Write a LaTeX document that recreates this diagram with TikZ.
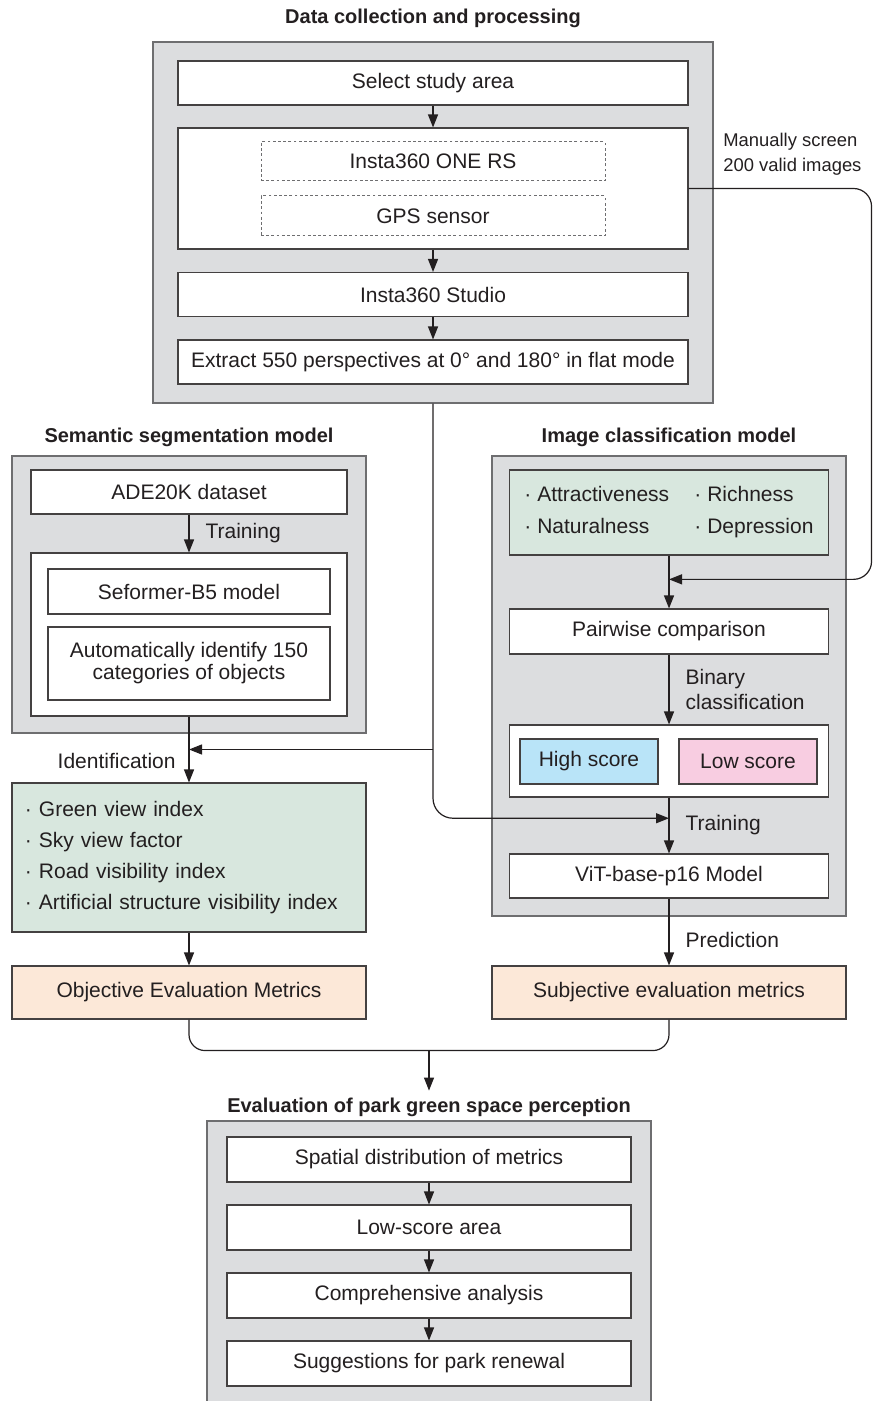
\documentclass[tikz,border=0pt]{standalone}
\usepackage{fontspec}
\setmainfont{Liberation Sans}
\usetikzlibrary{positioning,arrows.meta,calc}

\definecolor{texto}{HTML}{231F20}
\definecolor{grisfondo}{HTML}{DCDDDF}
\definecolor{bordegris}{HTML}{6E6E70}
\definecolor{verdeclaro}{HTML}{D8E7DE}
\definecolor{naranjaclaro}{HTML}{FCE8D8}
\definecolor{azulclaro}{HTML}{B9E4F8}
\definecolor{rosaclaro}{HTML}{F8CDE1}

\begin{document}
\begin{tikzpicture}[
    x=0.5pt, y=-0.5pt,
    font=\fontsize{10.5}{12.5}\selectfont,
    text=texto,
    grupo/.style={draw=bordegris, line width=0.7pt, fill=grisfondo, inner sep=0pt},
    caja/.style={draw=texto!85, line width=0.55pt, fill=white, align=center, inner sep=2pt},
    punteada/.style={draw=bordegris, line width=0.5pt, dash pattern=on 1.4pt off 1.2pt,
                     fill=white, align=center},
    verde/.style={caja, fill=verdeclaro},
    naranja/.style={caja, fill=naranjaclaro},
    titulo/.style={font=\fontsize{10}{12}\selectfont\bfseries},
    etiqueta/.style={inner sep=0pt, anchor=west, align=left, xshift=8pt},
    flecha/.style={-{Triangle[length=6.5pt, width=5pt]}, line width=0.6pt, draw=texto},
    linea/.style={line width=0.6pt, draw=texto}
]
\useasboundingbox (0,0) rectangle (873,1401);

% recogida y procesamiento de datos
\node[titulo] (tit1) at (433,18) {Data collection and processing};
\node[grupo, minimum width=280pt, minimum height=180.5pt] (datos) at (433,222.5) {};
\node[caja, minimum width=255pt, minimum height=22pt]   (area)    at (433,83)    {Select study area};
\node[caja, minimum width=255pt, minimum height=60.5pt] (equipo)  at (433,188.5) {};
\node[punteada, minimum width=172pt, minimum height=19.5pt] (camara) at (433,161.5) {Insta360 ONE RS};
\node[punteada, minimum width=172pt, minimum height=20pt]   (gps)    at (433,216)   {GPS sensor};
\node[caja, minimum width=255pt, minimum height=22pt]   (estudio) at (433,294.5) {Insta360 Studio};
\node[caja, minimum width=255pt, minimum height=22pt]   (extraer) at (433,362)
    {Extract 550 perspectives at 0° and 180° in flat mode};
\node[anchor=west, align=left, inner sep=0pt, font=\fontsize{9.2}{12.5}\selectfont]
    (manual) at (723,154) {Manually screen\\200 valid images};

% segmentacion semantica
\node[titulo] (tit2) at (189,437) {Semantic segmentation model};
\node[grupo, minimum width=177pt, minimum height=138.5pt] (segm) at (189,594.5) {};
\node[caja, minimum width=158pt, minimum height=22pt]   (ade)      at (189,492)   {ADE20K dataset};
\node[caja, minimum width=158pt, minimum height=81.5pt] (modelo)   at (189,634.5) {};
\node[caja, minimum width=141pt, minimum height=22.5pt] (seformer) at (189,591.5) {Seformer-B5 model};
\node[caja, minimum width=141pt, minimum height=36.5pt, font=\fontsize{10.5}{11}\selectfont]
    (objetos) at (189,663.5) {Automatically identify 150\\categories of objects};
\node[verde, minimum width=177pt, minimum height=74.5pt, text width=164pt, align=left]
    (indices) at (189,857.5)
    {· Green view index\\[3pt] · Sky view factor\\[3pt] · Road visibility index\\[3pt]
     · Artificial structure visibility index};
\node[naranja, minimum width=177pt, minimum height=26.5pt] (objetivas) at (189,992.5)
    {Objective Evaluation Metrics};

% clasificacion de imagenes
\node[titulo] (tit3) at (669,437) {Image classification model};
\node[grupo, minimum width=177pt, minimum height=230pt] (clasif) at (669,686) {};
\node[verde, minimum width=159.5pt, minimum height=42.5pt, align=left] (percep) at (669,512.5)
    {\makebox[85pt][l]{· Attractiveness}· Richness\\[3.5pt]
     \makebox[85pt][l]{· Naturalness}· Depression};
\node[caja, minimum width=159.5pt, minimum height=22.5pt] (pares)    at (669,631.5) {Pairwise comparison};
\node[caja, minimum width=159.5pt, minimum height=36pt]   (puntajes) at (669,761)   {};
\node[caja, fill=azulclaro, minimum width=69pt, minimum height=22.5pt] (alta) at (589,761.5) {High score};
\node[caja, fill=rosaclaro, minimum width=69pt, minimum height=22.5pt] (baja) at (748,761.5) {Low score};
\node[caja, minimum width=159.5pt, minimum height=22pt]   (vit)      at (669,876)   {ViT-base-p16 Model};
\node[naranja, minimum width=177pt, minimum height=26.5pt] (subjetivas) at (669,992.5)
    {Subjective evaluation metrics};

% evaluacion final
\node[titulo] (tit4) at (429,1107) {Evaluation of park green space perception};
\node[grupo, minimum width=222pt, minimum height=141pt] (evaluacion) at (429,1262) {};
\node[caja, minimum width=202pt, minimum height=22.5pt] (distrib)     at (429,1159.5) {Spatial distribution of metrics};
\node[caja, minimum width=202pt, minimum height=22.5pt] (bajopuntaje) at (429,1227.5) {Low-score area};
\node[caja, minimum width=202pt, minimum height=22.5pt] (analisis)    at (429,1295.5) {Comprehensive analysis};
\node[caja, minimum width=202pt, minimum height=22.5pt] (sugerencias) at (429,1363.5) {Suggestions for park renewal};

\coordinate (retorno) at ($(percep.south)!0.45!(pares.north)$);
\coordinate (identif) at ($(modelo.south)!0.5!(indices.north)$);
\coordinate (entreno) at ($(puntajes.south)!0.37!(vit.north)$);
\coordinate (union)   at ($(objetivas.south)!0.5!(subjetivas.south) + (0,31)$);

\draw[flecha] (area) -- (equipo);
\draw[flecha] (equipo) -- (estudio);
\draw[flecha] (estudio) -- (extraer);
\draw[flecha, rounded corners=9pt] (equipo.east) -- ++(183,0) |- (retorno);

\draw[flecha] (ade) -- (modelo) node[etiqueta, midway] {Training};
\draw[flecha] (modelo) -- (indices);
\draw[flecha] (datos.south |- identif) -- (identif);
\node[anchor=east, inner sep=0pt] (identlab) at ($(identif)+(-13,11)$) {Identification};
\draw[flecha, rounded corners=10pt] (datos.south) |- (entreno);
\draw[flecha] (indices) -- (objetivas);

\draw[flecha] (percep) -- (pares);
\draw[flecha] (pares) -- (puntajes) node[etiqueta, midway] {Binary\\classification};
\draw[flecha] (puntajes) -- (vit) node[etiqueta, midway] {Training};
\draw[flecha] (vit) -- (subjetivas) node[etiqueta, pos=0.62] {Prediction};

\draw[linea, rounded corners=8pt] (objetivas.south) -- ++(0,31) -| (subjetivas.south);
\draw[flecha] (union) -- (tit4);

\draw[flecha] (distrib) -- (bajopuntaje);
\draw[flecha] (bajopuntaje) -- (analisis);
\draw[flecha] (analisis) -- (sugerencias);

\end{tikzpicture}
\end{document}
